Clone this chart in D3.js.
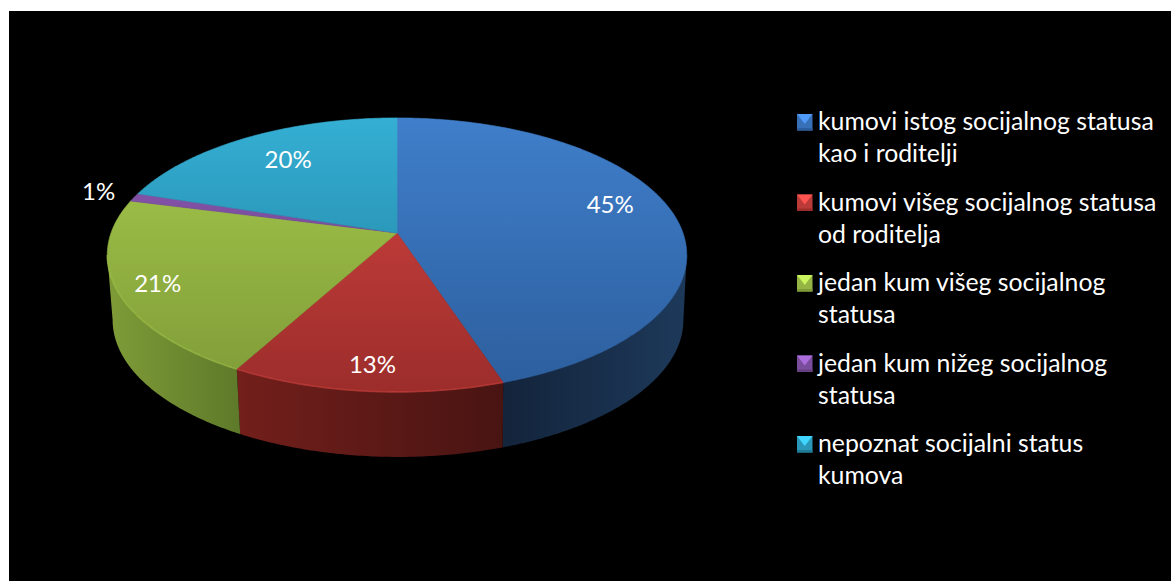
<!DOCTYPE html>
<html>
<head>
<meta charset="utf-8">
<script src="https://cdnjs.cloudflare.com/ajax/libs/d3/7.8.5/d3.min.js"></script>
<style>
html,body{margin:0;padding:0;background:#fff;overflow:hidden}
svg{display:block}
text{font-family:Lato,"Open Sans",sans-serif;fill:#fff}
</style>
</head>
<body>
<svg id="c" width="1171" height="581"></svg>
<script>
// ---- data
const categories = ["kumovi istog socijalnog statusa kao i roditelji","kumovi višeg socijalnog statusa od roditelja","jedan kum višeg socijalnog statusa","jedan kum nižeg socijalnog statusa","nepoznat socijalni status kumova"];
const legendLines = [["kumovi istog socijalnog statusa","kao i roditelji"],["kumovi višeg socijalnog statusa","od roditelja"],["jedan kum višeg socijalnog","statusa"],["jedan kum nižeg socijalnog","statusa"],["nepoznat socijalni status","kumova"]];
const values = [44.9,13.1,21,1,20];
const faceLight = ["#4181ce","#d84642","#a9cd4d","#8f5ab8","#36b3d9"];
const faceDark  = ["#2c5e9d","#9c2d2b","#7f9b38","#64407f","#1f7a96"];
const wallStart = ["#1d395a","#731f1b","#7f9c38","#4a2f60","#1c6278"];
const wallEnd   = ["#13243b","#481412","#5f7a2a","#4a2f60","#1c6278"];
const labelOffsets = [[19,-14],[-4,27],[-47,12],[-112,-16],[-1,-4]];

// ---- layout
const W = 1171, H = 581;
const svg = d3.select("#c");
const defs = svg.append("defs");
svg.append("rect").attr("x",9).attr("y",11).attr("width",W-9).attr("height",H-11).attr("fill","#000");

const cx = 397, cy = 233, scaleX = 286, scaleY = 133.5, persp = 0.16, depth = 65, shrink = 0.985;
const x = d3.scaleLinear().domain([-1,1]).range([cx-scaleX,cx+scaleX]);
const y = d3.scaleLinear().domain([-1,1]).range([cy-scaleY,cy+scaleY]);
function project(theta,f){
  const u = f*Math.sin(theta), v = -f*Math.cos(theta), w = 1 - persp*v;
  return [x(u/w), y(v/w)];
}
function lower(p){ return [cx+(p[0]-cx)*shrink+1, p[1]+depth]; }
function arcPoints(a,b){
  const n = Math.max(2,Math.ceil(Math.abs(b-a)/0.01));
  return d3.range(n+1).map(i=>project(a+(b-a)*i/n,1));
}
const line = d3.line();
const pie = d3.pie().sort(null).value(d=>d);
const slices = pie(values);

// wall visible between the two silhouette tangents
const wallA = Math.acos(-persp), wallB = 2*Math.PI-wallA;

// gradients
slices.forEach((s,i)=>{
  const g = defs.append("linearGradient").attr("id","face"+i).attr("gradientUnits","userSpaceOnUse")
    .attr("x1",0).attr("x2",0).attr("y1",y(-1)-3).attr("y2",y(1)+25);
  g.append("stop").attr("offset",0).attr("stop-color",faceLight[i]);
  g.append("stop").attr("offset",1).attr("stop-color",faceDark[i]);
});

// walls
slices.forEach((s,i)=>{
  const a = Math.max(s.startAngle,wallA), b = Math.min(s.endAngle,wallB);
  if(b<=a) return;
  const top = arcPoints(a,b), bottom = top.map(lower).reverse();
  const xs = top.map(p=>p[0]);
  const g = defs.append("linearGradient").attr("id","wall"+i).attr("gradientUnits","userSpaceOnUse")
    .attr("y1",0).attr("y2",0).attr("x1",d3.min(xs)).attr("x2",d3.max(xs));
  const left = (a+b)/2>Math.PI ? wallStart[i] : wallEnd[i];
  const right= (a+b)/2>Math.PI ? wallEnd[i] : wallStart[i];
  g.append("stop").attr("offset",0).attr("stop-color",left);
  g.append("stop").attr("offset",1).attr("stop-color",right);
  svg.append("path").attr("d",line(top.concat(bottom))+"Z").attr("fill",`url(#wall${i})`);
});

// top face
slices.forEach((s,i)=>{
  const pts = [project(0,0)].concat(arcPoints(s.startAngle,s.endAngle));
  svg.append("path").attr("d",line(pts)+"Z").attr("fill",`url(#face${i})`)
    .attr("stroke",`url(#face${i})`).attr("stroke-width",0.6);
});

// light rim along the front edge
slices.forEach((s,i)=>{
  const a = Math.max(s.startAngle,wallA), b = Math.min(s.endAngle,wallB);
  if(b<=a) return;
  svg.append("path").attr("d",line(arcPoints(a,b))).attr("fill","none")
    .attr("stroke",d3.color(faceLight[i])).attr("stroke-width",1.6).attr("stroke-opacity",i===0?0.15:0.5);
});

// data labels
slices.forEach((s,i)=>{
  const p = project((s.startAngle+s.endAngle)/2,0.7);
  svg.append("text").attr("x",p[0]+labelOffsets[i][0]).attr("y",p[1]+labelOffsets[i][1])
    .attr("dy","0.36em").attr("text-anchor","middle").attr("font-size",24)
    .text(d3.format(".0f")(values[i])+"%");
});

// legend
const legendY = d3.scalePoint().domain(d3.range(categories.length)).range([130,452]);
const swatchX = 797, swatchW = 15.5, swatchH = 16.5, textX = 818, lineStep = 32;
categories.forEach((c,i)=>{
  const g = svg.append("g");
  const sy = legendY(i)-16;
  const base = d3.interpolateRgb(faceLight[i],faceDark[i])(0.5);
  g.append("rect").attr("x",swatchX).attr("y",sy).attr("width",swatchW).attr("height",swatchH).attr("fill",base);
  g.append("path").attr("d",line([[swatchX,sy],[swatchX+swatchW,sy],[swatchX+swatchW/2,sy+swatchH*0.6]])+"Z")
    .attr("fill",d3.color(faceLight[i]).brighter(0.5));
  g.append("rect").attr("x",swatchX).attr("y",sy+swatchH-2.5).attr("width",swatchW).attr("height",2.5).attr("fill",faceDark[i]);
  legendLines[i].forEach((t,j)=>{
    g.append("text").attr("x",textX).attr("y",legendY(i)+j*lineStep).attr("font-size",24.8).text(t);
  });
});
</script>
</body>
</html>
